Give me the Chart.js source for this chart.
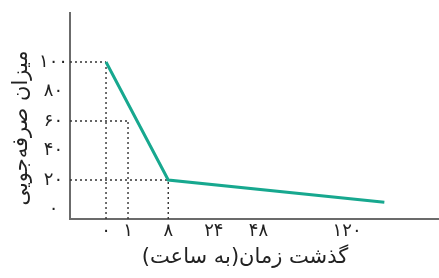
<!DOCTYPE html>
<html>
<head>
<meta charset="utf-8">
<script src="https://cdn.jsdelivr.net/npm/chart.js@4/dist/chart.umd.min.js"></script>
<style>
  html,body{margin:0;padding:0;background:#fff;}
  #wrap{width:439px;height:278px;position:relative;}
</style>
</head>
<body>
<div id="wrap"><canvas id="chart"></canvas></div>
<script>
// data
const hours = [0, 8, 160];
const saving = [100, 20, 5];
const xTicks = [0, 1, 8, 24, 48, 120];
const xTickLabels = ['۰', '۱', '۸', '۲۴', '۴۸', '۱۲۰'];
const yTicks = [0, 20, 40, 60, 80, 100];
const yTickLabels = ['۰', '۲۰', '۴۰', '۶۰', '۸۰', '۱۰۰'];
const guideHours = [0, 1, 8];
const guideValues = [100, 60, 20];
const xTitle = 'گذشت زمان(به ساعت)';
const yTitle = 'میزان صرفه‌جویی';

const FONT = "'DejaVu Sans', sans-serif";

// the time axis is drawn compressed (square-root like)
function ss(v){ return v < 0 ? -Math.sqrt(-v) : Math.sqrt(v); }
function inv(t){ return t < 0 ? -t*t : t*t; }
class SqrtScale extends Chart.LinearScale {
  getPixelForValue(v){
    const a = ss(this.min), b = ss(this.max);
    return this.getPixelForDecimal((ss(v)-a)/(b-a));
  }
  getValueForPixel(p){
    const a = ss(this.min), b = ss(this.max);
    return inv(a + this.getDecimalForPixel(p)*(b-a));
  }
}
SqrtScale.id = 'sqrt';
SqrtScale.defaults = Chart.LinearScale.defaults;
Chart.register(SqrtScale);

// dotted guide lines from the axes to the marked points
const guides = {
  id:'guides',
  beforeDatasetsDraw(chart){
    const {ctx, chartArea, scales:{x, y}} = chart;
    ctx.save();
    ctx.strokeStyle = '#333';
    ctx.lineWidth = 1.4;
    ctx.setLineDash([2, 3]);
    guideHours.forEach((h, i)=>{
      const px = x.getPixelForValue(h), py = y.getPixelForValue(guideValues[i]);
      ctx.beginPath();
      ctx.moveTo(chartArea.left, py); ctx.lineTo(px, py);
      ctx.moveTo(px, chartArea.bottom); ctx.lineTo(px, py);
      ctx.stroke();
    });
    ctx.restore();
  }
};

// axis titles, placed a bit off-centre like the original
const titles = {
  id:'titles',
  afterDraw(chart){
    const ctx = chart.ctx;
    ctx.save();
    ctx.fillStyle = '#222';
    ctx.font = '21px ' + FONT;
    ctx.textAlign = 'center';
    ctx.textBaseline = 'middle';
    ctx.fillText(xTitle, 245, 258);
    ctx.translate(22, 128);
    ctx.rotate(-Math.PI/2);
    ctx.fillText(yTitle, 0, 0);
    ctx.restore();
  }
};

new Chart(document.getElementById('chart'), {
  type:'line',
  data:{
    datasets:[{
      data: hours.map((h, i)=>({x:h, y:saving[i]})),
      borderColor:'#17a88f',
      borderWidth:3,
      pointRadius:0,
      tension:0,
      fill:false
    }]
  },
  options:{
    responsive:true,
    maintainAspectRatio:false,
    animation:false,
    layout:{ padding:{ left:2, top:13, right:0, bottom:4 } },
    plugins:{ legend:{display:false}, tooltip:{enabled:false} },
    scales:{
      x:{
        type:'sqrt',
        min:-2.68, max:229,
        grid:{ display:false, drawTicks:false },
        border:{ display:true, color:'#6b6b6b', width:2 },
        afterBuildTicks(s){ s.ticks = xTicks.map(v=>({value:v})); },
        afterFit(s){ s.height = 55; },
        ticks:{
          autoSkip:false, maxRotation:0, padding:2,
          color:'#222', font:{ family:FONT, size:18 },
          callback:(v, i)=>xTickLabels[i]
        }
      },
      y:{
        type:'linear',
        min:-6.4, max:133.2,
        grid:{ display:false, drawTicks:false },
        border:{ display:true, color:'#6b6b6b', width:2 },
        afterBuildTicks(s){ s.ticks = yTicks.map(v=>({value:v})); },
        afterFit(s){ s.width = 68; },
        ticks:{
          autoSkip:false, padding:2, crossAlign:'center',
          color:'#222', font:{ family:FONT, size:18 },
          callback:(v, i)=>yTickLabels[i]
        }
      }
    }
  },
  plugins:[guides, titles]
});
</script>
</body>
</html>
